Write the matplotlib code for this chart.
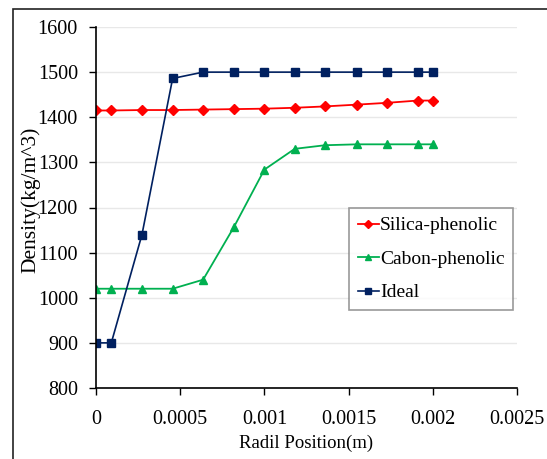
import matplotlib
matplotlib.use("Agg")
import matplotlib.pyplot as plt
from matplotlib.patches import Rectangle

plt.rcParams['font.family'] = ['Liberation Serif', 'DejaVu Serif']

# Radial positions (m)
x = [0, 0.0000909, 0.000273, 0.000455, 0.000636, 0.000818, 0.001,
     0.00118, 0.00136, 0.00155, 0.00173, 0.00191, 0.002]

silica = [1415, 1415, 1416, 1416, 1417, 1418, 1419, 1421, 1424, 1428, 1432, 1437, 1437]
cabon = [1020, 1020, 1020, 1020, 1040, 1156, 1284, 1330, 1338, 1340, 1340, 1340, 1340]
ideal = [900, 900, 1140, 1486, 1500, 1500, 1500, 1500, 1500, 1500, 1500, 1500, 1500]

fig = plt.figure(figsize=(5.47, 4.59), dpi=100)
ax = fig.add_axes([96 / 547, 1 - 388 / 459, (517 - 96) / 547, (388 - 27) / 459])

# cadru exterior
fig.patches.append(Rectangle((13 / 547, -0.1), 1.2, 1 - 9 / 459 + 0.1,
                             transform=fig.transFigure, fill=False,
                             edgecolor='#222222', linewidth=1.2))

ax.plot(x, silica, color='#FF0000', marker='D', markersize=5, linewidth=1.3,
        label='Silica-phenolic')
ax.plot(x, cabon, color='#00B050', marker='^', markersize=5.5, linewidth=1.3,
        label='Cabon-phenolic')
ax.plot(x, ideal, color='#002060', marker='s', markersize=6, linewidth=1.2,
        label='Ideal')

ax.set_xlim(0, 0.0025)
ax.set_ylim(800, 1600)
ax.set_xticks([0, 0.0005, 0.001, 0.0015, 0.002, 0.0025])
ax.set_xticklabels(['0', '0.0005', '0.001', '0.0015', '0.002', '0.0025'])
ax.set_yticks(range(800, 1601, 100))
ax.yaxis.grid(True, color='#E8E8E8', linewidth=1)
ax.set_axisbelow(True)

for s in ['top', 'right']:
    ax.spines[s].set_visible(False)
for s in ['left', 'bottom']:
    ax.spines[s].set_linewidth(1.2)

ax.tick_params(direction='out', length=5, width=1, labelsize=14.5)
ax.tick_params(axis='x', pad=11)
ax.tick_params(axis='y', pad=8)

ax.set_xlabel('Radil Position(m)', fontsize=13.5, labelpad=4)
ax.set_ylabel('Density(kg/m^3)', fontsize=15.5)
ax.yaxis.set_label_coords(-0.133, 0.52)

leg = ax.legend(loc='upper left', bbox_to_anchor=((349 - 96) / 421, 1 - (208 - 27) / 361),
                fontsize=14, frameon=True, fancybox=False, handlelength=1.1,
                handletextpad=0.05, borderpad=0.45, labelspacing=0.82,
                borderaxespad=0, markerscale=0.75)
leg.get_frame().set_edgecolor('#808080')
leg.get_frame().set_linewidth(1.2)

fig.savefig('out.png', dpi=100)
